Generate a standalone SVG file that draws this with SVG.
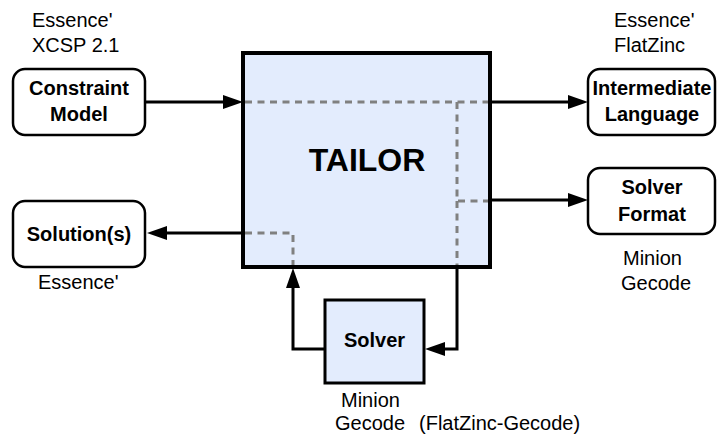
<svg xmlns="http://www.w3.org/2000/svg" width="717" height="434" viewBox="0 0 717 434">
<style>
.node{fill:#ffffff;stroke:#000;stroke-width:2.5}
.blue{fill:#e3ecfd;stroke:#000}
.lbl{font-family:"Liberation Sans",Arial,sans-serif;font-size:20px;fill:#000}
.b{font-weight:bold;text-anchor:middle}
.big{font-size:32px}
.conn{fill:none;stroke:#000;stroke-width:3}
.dash{fill:none;stroke:#808080;stroke-width:3;stroke-dasharray:7 5.5}
</style>
<defs>
<marker id="ah" viewBox="0 0 20 14" refX="10" refY="7" markerWidth="20" markerHeight="14" markerUnits="userSpaceOnUse" orient="auto">
<path d="M0,0 L20,7 L0,14 z" fill="#000"/>
</marker>
</defs>
<g id="tailor">
<rect class="blue" x="243" y="53" width="247" height="214" stroke-width="4"/>
<text class="lbl b big" x="367" y="171">TAILOR</text>
</g>
<g id="constraint-model">
<rect class="node" x="13" y="69" width="132" height="66" rx="12"/>
<text class="lbl b" x="79" y="95">Constraint</text>
<text class="lbl b" x="79" y="121">Model</text>
<text class="lbl" x="32" y="27">Essence'</text>
<text class="lbl" x="32" y="52">XCSP 2.1</text>
</g>
<g id="solutions">
<rect class="node" x="13" y="201" width="132" height="66" rx="12"/>
<text class="lbl b" x="79" y="241">Solution(s)</text>
<text class="lbl" x="38" y="289">Essence'</text>
</g>
<g id="intermediate-language">
<rect class="node" x="588" y="69" width="127" height="66" rx="12"/>
<text class="lbl b" x="652" y="95">Intermediate</text>
<text class="lbl b" x="652" y="121">Language</text>
<text class="lbl" x="614" y="27">Essence'</text>
<text class="lbl" x="614" y="52">FlatZinc</text>
</g>
<g id="solver-format">
<rect class="node" x="588" y="168" width="127" height="66" rx="12"/>
<text class="lbl b" x="652" y="194">Solver</text>
<text class="lbl b" x="652" y="221">Format</text>
<text class="lbl" x="623" y="265">Minion</text>
<text class="lbl" x="621" y="290">Gecode</text>
</g>
<g id="solver">
<rect class="blue" x="325" y="300" width="99" height="83" stroke-width="3"/>
<text class="lbl b" x="374.5" y="347">Solver</text>
<text class="lbl" x="341" y="407">Minion</text>
<text class="lbl" x="335" y="430">Gecode<tspan x="419">(FlatZinc-Gecode)</tspan></text>
</g>
<g id="connectors">
<path class="conn" d="M145,102 H233" marker-end="url(#ah)"/>
<path class="conn" d="M490,102 H578" marker-end="url(#ah)"/>
<path class="conn" d="M490,200 H578" marker-end="url(#ah)"/>
<path class="conn" d="M243,233 H157" marker-end="url(#ah)"/>
<path class="conn" d="M325,349 H293 V278" marker-end="url(#ah)"/>
<path class="conn" d="M457,267 V349 H435" marker-end="url(#ah)"/>
<path class="dash" d="M245,102 H488"/>
<path class="dash" d="M457,102 V201 H488"/>
<path class="dash" d="M457,201 V265"/>
<path class="dash" d="M245,233 H293 V265"/>
</g>
</svg>
